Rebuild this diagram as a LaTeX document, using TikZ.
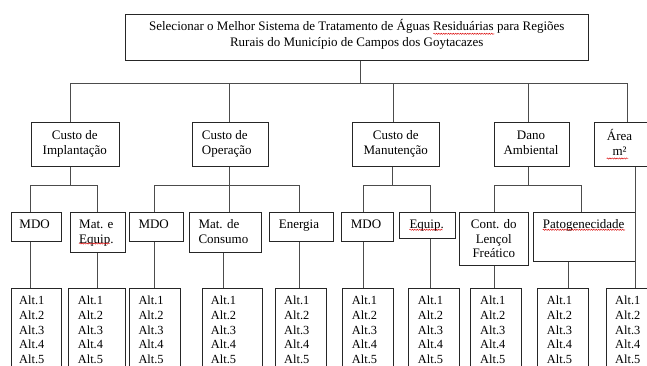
\documentclass[tikz,border=0pt]{standalone}
\usepackage{fontspec}
\setmainfont{Liberation Serif}
\usetikzlibrary{decorations.pathmorphing,calc}
\newcommand{\fsA}{\fontsize{13}{15.6}\selectfont}
\newcommand{\fsB}{\fontsize{13}{14.6}\selectfont}
\newcommand{\fsC}{\fontsize{12.4}{14.8}\selectfont}
\begin{document}
\begin{tikzpicture}[x=1pt,y=-1pt,
  box/.style={draw=black!85, line width=0.9pt, inner sep=0pt, anchor=north west},
  wire/.style={draw=black!70, line width=0.9pt},
  ttl/.style={inner sep=0pt, font=\fsA, align=center, anchor=north, yshift=10.92pt},
  lblc/.style={inner sep=0pt, font=\fsB, align=center, anchor=north, yshift=10.22pt},
  lbll/.style={inner sep=0pt, font=\fsB, align=left, anchor=north west, yshift=10.22pt},
  alts/.style={inner sep=0pt, font=\fsC, align=left, anchor=north west, yshift=10.36pt},
  spell/.style={draw=red!85!black, line width=0.45pt, decorate, decoration={snake, amplitude=0.6pt, segment length=2.4pt}}]
\useasboundingbox (0,0) rectangle (647,365);
\clip (0,0) rectangle (647,365);

% ---------- boxes ----------
\node[box, minimum width=463pt, minimum height=46.3pt] (top) at (125.3,14) {};
\node[box, minimum width=88.3pt, minimum height=43.4pt] (ci) at (30.7,122.3) {};
\node[box, minimum width=76.6pt, minimum height=43.4pt] (co) at (191.7,122.3) {};
\node[box, minimum width=87.3pt, minimum height=43.4pt] (cm) at (351.7,122.3) {};
\node[box, minimum width=74.4pt, minimum height=43.4pt] (da) at (494.3,122.3) {};
\node[box, minimum width=70pt, minimum height=43.4pt] (ar) at (594,122.3) {};

\node[box, minimum width=50.3pt, minimum height=29.3pt] (mdo1) at (10.7,211.7) {};
\node[box, minimum width=55pt, minimum height=40.6pt] (mate) at (70.3,211.7) {};
\node[box, minimum width=54.3pt, minimum height=29.3pt] (mdo2) at (129,211.7) {};
\node[box, minimum width=72pt, minimum height=40.6pt] (matc) at (189.3,211.7) {};
\node[box, minimum width=64.6pt, minimum height=29.3pt] (ener) at (268.7,211.7) {};
\node[box, minimum width=52.6pt, minimum height=29.3pt] (mdo3) at (340.7,211.7) {};
\node[box, minimum width=55.4pt, minimum height=26.6pt] (equi) at (399.3,211.7) {};
\node[box, minimum width=69pt, minimum height=53.3pt] (cont) at (459.3,211.7) {};
\node[box, minimum width=102.6pt, minimum height=49pt] (pato) at (532.7,211.7) {};

\foreach \n/\x/\w in {a1/10.7/50.3, a2/68.3/57, a3/129/51.3, a4/201.7/60, a5/275/51,
                      a6/341.7/51, a7/408.3/50.7, a8/470.3/51, a9/537/50.7, a10/606/60}
  \node[box, minimum width=\w pt, minimum height=100pt] (\n) at (\x,287.7) {};

% ---------- texts ----------
\node[ttl] (ttop) at (356.8,30.5) {\strut Selecionar o Melhor Sistema de Tratamento de Águas Residuárias para Regiões\\Rurais do Município de Campos dos Goytacazes};
\node[lblc] (tci) at (74.8,139.5) {\strut Custo de\\Implantação};
\node[lbll] (tco) at (201.7,139.5) {\strut Custo de\\Operação};
\node[lblc] (tcm) at (395.8,139.5) {\strut Custo de\\Manutenção};
\node[lblc] (tda) at (531,139.5) {\strut Dano\\Ambiental};
\node[lblc] (tar) at (619.5,139.5) {\strut Área\\m²};

\node[lbll] (tmdo1) at (19.3,228.5) {\strut MDO};
\node[lbll] (tmate) at (79,228.5) {\strut Mat. e\\Equip.};
\node[lbll] (tmdo2) at (138.3,228.5) {\strut MDO};
\node[lbll] (tmatc) at (198.3,228.5) {\strut Mat. de\\Consumo};
\node[lbll] (tener) at (278.7,228.5) {\strut Energia};
\node[lbll] (tmdo3) at (350.7,228.5) {\strut MDO};
\node[lbll] (tequi) at (409.3,228.5) {\strut Equip.};
\node[lblc] (tcont) at (493.8,228.5) {\strut Cont. do\\Lençol\\Freático};
\node[lbll] (tpato) at (542.7,228.5) {\strut Patogenecidade};

\foreach \n/\x in {a1/19, a2/77.7, a3/138.3, a4/210.7, a5/284,
                   a6/351.7, a7/417.7, a8/480, a9/546.7, a10/615}
  \node[alts] (t\n) at (\x,304.2) {\strut Alt.1\\Alt.2\\Alt.3\\Alt.4\\Alt.5};

% ---------- connectors ----------
\coordinate (b0) at (360,83.3);
\coordinate (L1a) at (70,83.3);
\coordinate (L1b) at (229.7,83.3);
\coordinate (L1c) at (393,83.3);
\coordinate (L1d) at (528.3,83.3);
\coordinate (L1e) at (627.7,83.3);
\draw[wire] (top.south -| b0) -- (b0);
\draw[wire] (L1a) -- (L1e);
\draw[wire] (L1a) -- (L1a |- ci.north);
\draw[wire] (L1b) -- (L1b |- co.north);
\draw[wire] (L1c) -- (L1c |- cm.north);
\draw[wire] (L1d) -- (L1d |- da.north);
\draw[wire] (L1e) -- (L1e |- ar.north);

% Implantacao
\coordinate (i0) at (70,185);
\coordinate (i1) at (30.7,185);
\coordinate (i2) at (97.7,185);
\draw[wire] (i0 |- ci.south) -- (i0);
\draw[wire] (i1) -- (i2);
\draw[wire] (i1) -- (i1 |- mdo1.north);
\draw[wire] (i2) -- (i2 |- mate.north);
% Operacao
\coordinate (o0) at (229.3,185);
\coordinate (o1) at (154,185);
\coordinate (o2) at (299.5,185);
\draw[wire] (o0 |- co.south) -- (o0 |- matc.north);
\draw[wire] (o1) -- (o2);
\draw[wire] (o1) -- (o1 |- mdo2.north);
\draw[wire] (o2) -- (o2 |- ener.north);
% Manutencao
\coordinate (m0) at (392.7,185);
\coordinate (m1) at (363.5,185);
\coordinate (m2) at (430.7,185);
\draw[wire] (m0 |- cm.south) -- (m0);
\draw[wire] (m1) -- (m2);
\draw[wire] (m1) -- (m1 |- mdo3.north);
\draw[wire] (m2) -- (m2 |- equi.north);
% Dano
\coordinate (d0) at (528.3,185);
\coordinate (d1) at (494,185);
\coordinate (d2) at (581.3,185);
\draw[wire] (d0 |- da.south) -- (d0);
\draw[wire] (d1) -- (d2);
\draw[wire] (d1) -- (d1 |- cont.north);
\draw[wire] (d2) -- (d2 |- pato.north);
% Area
\coordinate (arx) at (635.3,0);
\draw[wire] (arx |- ar.south) -- (arx |- a10.north);

% down to alternatives
\coordinate (mcx) at (223.3,0);
\coordinate (px) at (568.3,0);
\draw[wire] (i1 |- mdo1.south) -- (i1 |- a1.north);
\draw[wire] (i2 |- mate.south) -- (i2 |- a2.north);
\draw[wire] (o1 |- mdo2.south) -- (o1 |- a3.north);
\draw[wire] (mcx |- matc.south) -- (mcx |- a4.north);
\draw[wire] (o2 |- ener.south) -- (o2 |- a5.north);
\draw[wire] (m1 |- mdo3.south) -- (m1 |- a6.north);
\draw[wire] (m2 |- equi.south) -- (m2 |- a7.north);
\draw[wire] (d1 |- cont.south) -- (d1 |- a8.north);
\draw[wire] (px |- pato.south) -- (px |- a9.north);

% spell-check underlines
\draw[spell] (433.3,33.8) -- (494.3,33.8);
\draw[spell] (79,243.5) -- (110,243.5);
\draw[spell] (409.3,229.8) -- (442.7,229.8);
\draw[spell] (542.7,229.8) -- (625,229.8);
\draw[spell] (606.7,158.5) -- (628.3,158.5);
\end{tikzpicture}
\end{document}
